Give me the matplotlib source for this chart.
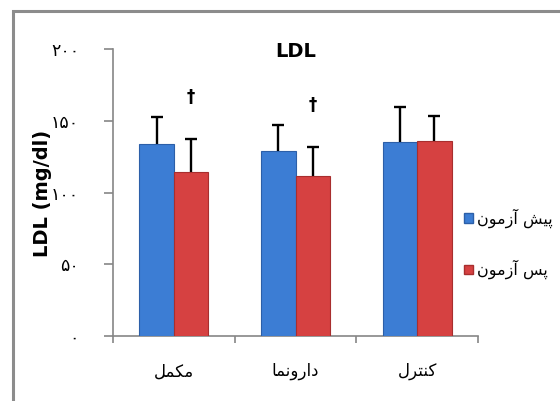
import matplotlib
matplotlib.use("Agg")
import matplotlib.pyplot as plt
import numpy as np
from matplotlib.patches import Rectangle, Patch

# داده‌ها
groups = ["مکمل", "دارونما", "کنترل"]
series_names = ["پیش آزمون", "پس آزمون"]
pre_mean = [133.5, 129, 135.5]
pre_sd = [19, 18, 24]
post_mean = [114, 111.5, 136]
post_sd = [23, 20, 17]
sig_marks = ["†", "†", ""]
y_ticks = [0, 50, 100, 150, 200]

plt.rcParams["font.family"] = ["DejaVu Sans", "Noto Sans"]

# شکل‌دهی ساده‌ی حروف فارسی (matplotlib خودش حروف را نمی‌چسباند)
FORMS = {
    "م": ("\uFEE1", "\uFEE2", "\uFEE3", "\uFEE4"),
    "ک": ("\uFB8E", "\uFB8F", "\uFB90", "\uFB91"),
    "ل": ("\uFEDD", "\uFEDE", "\uFEDF", "\uFEE0"),
    "ن": ("\uFEE5", "\uFEE6", "\uFEE7", "\uFEE8"),
    "ت": ("\uFE95", "\uFE96", "\uFE97", "\uFE98"),
    "پ": ("\uFB56", "\uFB57", "\uFB58", "\uFB59"),
    "ی": ("\uFBFC", "\uFBFD", "\uFBFE", "\uFBFF"),
    "ش": ("\uFEB5", "\uFEB6", "\uFEB7", "\uFEB8"),
    "س": ("\uFEB1", "\uFEB2", "\uFEB3", "\uFEB4"),
    "د": ("\uFEA9", "\uFEAA", None, None),
    "ا": ("\uFE8D", "\uFE8E", None, None),
    "آ": ("\uFE81", "\uFE82", None, None),
    "ر": ("\uFEAD", "\uFEAE", None, None),
    "ز": ("\uFEAF", "\uFEB0", None, None),
    "و": ("\uFEED", "\uFEEE", None, None),
}


def fa(text):
    out = []
    for i, ch in enumerate(text):
        if ch not in FORMS:
            out.append(ch)
            continue
        prev = text[i - 1] if i > 0 else ""
        nxt = text[i + 1] if i + 1 < len(text) else ""
        joins_prev = prev in FORMS and FORMS[prev][2] is not None
        joins_next = nxt in FORMS and FORMS[ch][2] is not None
        isol, fina, init, medi = FORMS[ch]
        if joins_prev and joins_next:
            out.append(medi)
        elif joins_prev:
            out.append(fina)
        elif joins_next:
            out.append(init)
        else:
            out.append(isol)
    return "".join(reversed(out))


def fa_num(n):
    return str(n).translate(str.maketrans("0123456789", "۰۱۲۳۴۵۶۷۸۹"))


fig = plt.figure(figsize=(5.6, 4.01), dpi=100)
ax = fig.add_axes([113 / 560, 1 - 336 / 401, 365 / 560, 287 / 401])

x = np.arange(len(groups))
w = 0.283
blue = "#3C7DD4"
red = "#D64141"
err_kw = dict(fmt="none", ecolor="black", elinewidth=1.7, capthick=1.7,
              capsize=4.5, zorder=2)

# فقط خطای بالایی نشان داده می‌شود
for xs, means, sds in [(x - w / 2, pre_mean, pre_sd), (x + w / 2, post_mean, post_sd)]:
    eb = ax.errorbar(xs, means, yerr=[np.zeros(3), sds], **err_kw)
    eb[1][0].set_visible(False)

ax.bar(x - w / 2, pre_mean, w, color=blue, edgecolor="#2C5FA8", linewidth=0.8,
       zorder=3)
ax.bar(x + w / 2, post_mean, w, color=red, edgecolor="#A82E2E", linewidth=0.8,
       zorder=3)

# علامت معناداری بالای ستون پس آزمون
for xi, m, s, mark in zip(x, post_mean, post_sd, sig_marks):
    if mark:
        ax.text(xi + w / 2, m + s + 29.5, mark, ha="center", va="center",
                fontsize=12, fontweight="bold")

ax.set_xlim(-0.5, 2.5)
ax.set_ylim(0, 200)
ax.set_yticks(y_ticks)
ax.set_yticklabels([fa_num(t) for t in y_ticks], fontsize=12.5)
ax.set_xticks(x)
ax.set_xticklabels([fa(g) for g in groups], fontsize=12)
ax.set_xticks(np.arange(-0.5, 3, 1), minor=True)
ax.tick_params(axis="x", which="major", length=0, pad=19)
ax.tick_params(axis="x", which="minor", length=5, color="#868686", width=1.2)
ax.tick_params(axis="y", length=6.5, color="#868686", width=1.2, pad=18)

for side in ["top", "right"]:
    ax.spines[side].set_visible(False)
for side in ["left", "bottom"]:
    ax.spines[side].set_color("#868686")
    ax.spines[side].set_linewidth(1.2)

ax.text(0.5, 0.99, "LDL", transform=ax.transAxes, ha="center", va="center",
        fontsize=14, fontweight="bold")
fig.text(42 / 560, 1 - 193 / 401, "LDL (mg/dl)", rotation=90, ha="center",
         va="center", fontsize=14, fontweight="bold")

handles = [Patch(facecolor=blue, edgecolor="#2C5FA8"),
           Patch(facecolor=red, edgecolor="#A82E2E")]
fig.legend(handles, [fa(s) for s in series_names], loc="center left",
           bbox_to_anchor=(464 / 560, 1 - 244 / 401), frameon=False,
           fontsize=11.5, handlelength=0.55, handleheight=0.55, handletextpad=0.25,
           labelspacing=2.0, borderpad=0, borderaxespad=0)

# قاب بیرونی نمودار
fig.patches.append(Rectangle((13 / 560, -0.1), 1.2, 1 - 11 / 401 + 0.1,
                             transform=fig.transFigure, fill=False,
                             edgecolor="#8C8C8C", linewidth=2.2))

fig.savefig("out.png", dpi=100)
